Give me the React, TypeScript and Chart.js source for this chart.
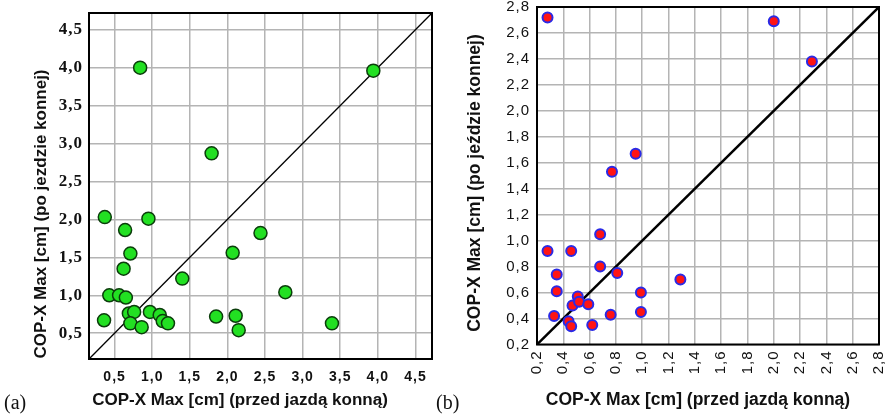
import React, { useEffect, useRef } from "react";
import { Chart, registerables } from "chart.js";

Chart.register(...registerables);

// ---------- Data: chart (a) ----------
const beforeA = [0.84, 3.94, 1.79, 0.37, 0.95, 0.64, 2.44, 0.71, 2.07, 0.62, 1.40, 0.43, 0.56, 0.65, 2.77, 0.36, 0.69, 0.76, 0.71, 0.86, 0.97, 1.10, 1.14, 1.21, 1.85, 2.11, 2.15, 3.39];
const afterA = [4.00, 3.96, 2.87, 2.03, 2.01, 1.86, 1.82, 1.55, 1.56, 1.35, 1.22, 1.00, 1.00, 0.97, 1.04, 0.67, 0.76, 0.78, 0.63, 0.58, 0.78, 0.74, 0.66, 0.63, 0.72, 0.73, 0.54, 0.63];
const ticksA = [0.5, 1.0, 1.5, 2.0, 2.5, 3.0, 3.5, 4.0, 4.5];
const rangeA = [0.16, 4.72];
const diagonalA = [0.17, 4.72];

// ---------- Data: chart (b) ----------
const beforeB = [0.28, 2.00, 2.29, 0.95, 0.77, 0.68, 0.28, 0.46, 0.68, 0.35, 0.81, 1.29, 0.35, 0.99, 0.51, 0.47, 0.52, 0.59, 0.33, 0.44, 0.46, 0.62, 0.76, 0.99];
const afterB = [2.72, 2.69, 2.38, 1.67, 1.53, 1.05, 0.92, 0.92, 0.80, 0.74, 0.75, 0.70, 0.61, 0.60, 0.57, 0.50, 0.53, 0.51, 0.42, 0.38, 0.34, 0.35, 0.43, 0.45];
const ticksB = [0.2, 0.4, 0.6, 0.8, 1.0, 1.2, 1.4, 1.6, 1.8, 2.0, 2.2, 2.4, 2.6, 2.8];
const rangeB = [0.2, 2.8];
const diagonalB = [0.2, 2.8];

const xTitle = "COP-X Max [cm] (przed jazdą konną)";
const yTitleA = "COP-X Max [cm] (po jezdzie konnej)";
const yTitleB = "COP-X Max [cm] (po jeździe konnej)";

const fmt = (v: any) => Number(v).toFixed(1).replace(".", ",");

const framePlugin = {
  id: "frameTitles",
  beforeDraw(chart: any, _args: any, opts: any) {
    const ctx = chart.ctx as any;
    ctx.letterSpacing = opts.tickSpacing || "0px";
  },
  afterDraw(chart: any, _args: any, opts: any) {
    const { chartArea } = chart;
    const ctx = chart.ctx as any;
    ctx.save();
    ctx.letterSpacing = "0px";
    ctx.strokeStyle = "#000";
    ctx.lineWidth = opts.frameWidth || 2;
    ctx.strokeRect(chartArea.left, chartArea.top, chartArea.right - chartArea.left, chartArea.bottom - chartArea.top);
    ctx.fillStyle = "#111";
    ctx.font = opts.titleFont;
    ctx.textAlign = "center";
    ctx.textBaseline = "middle";
    ctx.fillText(opts.xTitle, opts.xTitlePos[0], opts.xTitlePos[1]);
    ctx.translate(opts.yTitlePos[0], opts.yTitlePos[1]);
    ctx.rotate(-Math.PI / 2);
    ctx.fillText(opts.yTitle, 0, 0);
    ctx.restore();
    ctx.letterSpacing = "0px";
  },
};

type PanelProps = {
  xs: number[];
  ys: number[];
  ticks: number[];
  range: number[];
  diag: number[];
  cfg: any;
};

function Panel({ xs, ys, ticks, range, diag, cfg }: PanelProps) {
  const ref = useRef<HTMLCanvasElement | null>(null);
  useEffect(() => {
    if (!ref.current) return;
    const points = xs.map((x, i) => ({ x, y: ys[i] }));
    const line = diag.map((v) => ({ x: v, y: v }));
    const setTicks = (s: any) => {
      s.ticks = ticks.map((v) => ({ value: v }));
    };
    const zeroPad = (s: any) => {
      s.paddingLeft = 0;
      s.paddingRight = 0;
      s.paddingTop = 0;
      s.paddingBottom = 0;
    };
    const chart = new Chart(ref.current, {
      type: "scatter",
      data: {
        datasets: [
          {
            data: points,
            backgroundColor: cfg.pointFill,
            borderColor: cfg.pointBorder,
            borderWidth: cfg.pointBorderWidth,
            pointRadius: cfg.pointRadius,
            order: 0,
          },
          {
            type: "line",
            data: line,
            borderColor: "#000",
            borderWidth: cfg.diagWidth,
            pointRadius: 0,
            fill: false,
            order: 1,
          } as any,
        ],
      },
      options: {
        responsive: false,
        animation: false,
        devicePixelRatio: 1,
        layout: { padding: cfg.padding },
        plugins: {
          legend: { display: false },
          tooltip: { enabled: false },
          frameTitles: cfg.titles,
        } as any,
        scales: {
          x: {
            type: "linear",
            min: range[0],
            max: range[1],
            afterBuildTicks: setTicks,
            afterFit: (s: any) => {
              s.height = cfg.xHeight;
              zeroPad(s);
            },
            grid: { color: cfg.gridColor, lineWidth: cfg.gridWidth, drawTicks: false },
            border: { display: false },
            ticks: {
              font: cfg.xTickFont,
              color: "#111",
              padding: cfg.xTickPad,
              minRotation: cfg.xRot,
              maxRotation: cfg.xRot,
              autoSkip: false,
              callback: fmt,
            },
          },
          y: {
            type: "linear",
            min: range[0],
            max: range[1],
            afterBuildTicks: setTicks,
            afterFit: (s: any) => {
              s.width = cfg.yWidth;
              zeroPad(s);
            },
            grid: { color: cfg.gridColor, lineWidth: cfg.gridWidth, drawTicks: false },
            border: { display: false },
            ticks: {
              font: cfg.yTickFont,
              color: "#111",
              padding: cfg.yTickPad,
              autoSkip: false,
              callback: fmt,
            },
          },
        },
      },
      plugins: [framePlugin],
    });
    return () => chart.destroy();
  }, []);
  return <canvas ref={ref} width={445} height={415} style={{ display: "block", width: 445, height: 415 }} />;
}

const cfgA = {
  pointFill: "#22e022",
  pointBorder: "#0b3d0b",
  pointBorderWidth: 1.5,
  pointRadius: 6.5,
  diagWidth: 1.3,
  padding: { left: 0, right: 13, top: 13, bottom: 0 },
  xHeight: 56,
  yWidth: 89,
  gridColor: "#b4b4b4",
  gridWidth: 1.5,
  xTickFont: { family: '"Liberation Sans", Arial, sans-serif', weight: "bold", size: 14 },
  yTickFont: { family: '"Liberation Serif", "Times New Roman", serif', weight: "bold", size: 17 },
  xTickPad: 10,
  yTickPad: 6,
  xRot: 0,
  titles: {
    frameWidth: 2,
    tickSpacing: "1px",
    titleFont: 'bold 17px "Liberation Sans", Arial, sans-serif',
    xTitle,
    yTitle: yTitleA,
    xTitlePos: [240, 400],
    yTitlePos: [41, 214],
  },
};

const cfgB = {
  pointFill: "#ff1414",
  pointBorder: "#2a2ae6",
  pointBorderWidth: 2,
  pointRadius: 5,
  diagWidth: 2.5,
  padding: { left: 0, right: 11, top: 7, bottom: 0 },
  xHeight: 70.5,
  yWidth: 92,
  gridColor: "#b4b4b4",
  gridWidth: 1.5,
  xTickFont: { family: '"Liberation Sans", Arial, sans-serif', size: 15 },
  yTickFont: { family: '"Liberation Sans", Arial, sans-serif', size: 15 },
  xTickPad: 6,
  yTickPad: 7,
  xRot: 90,
  titles: {
    frameWidth: 2,
    tickSpacing: "1px",
    titleFont: 'bold 17.5px "Liberation Sans", Arial, sans-serif',
    xTitle,
    yTitle: yTitleB,
    xTitlePos: [253, 400],
    yTitlePos: [30, 183],
  },
};

export default function App() {
  const label: React.CSSProperties = {
    position: "absolute",
    top: 390,
    fontFamily: '"Liberation Serif", "Times New Roman", serif',
    fontSize: 20,
    color: "#111",
    lineHeight: "24px",
  };
  return (
    <div style={{ position: "absolute", left: 0, top: 0, width: 890, height: 415, background: "#fff", overflow: "hidden" }}>
      <div style={{ position: "absolute", left: 0, top: 0 }}>
        <Panel xs={beforeA} ys={afterA} ticks={ticksA} range={rangeA} diag={diagonalA} cfg={cfgA} />
      </div>
      <div style={{ position: "absolute", left: 445, top: 0 }}>
        <Panel xs={beforeB} ys={afterB} ticks={ticksB} range={rangeB} diag={diagonalB} cfg={cfgB} />
      </div>
      <span style={{ ...label, left: 4 }}>(a)</span>
      <span style={{ ...label, left: 436 }}>(b)</span>
    </div>
  );
}
